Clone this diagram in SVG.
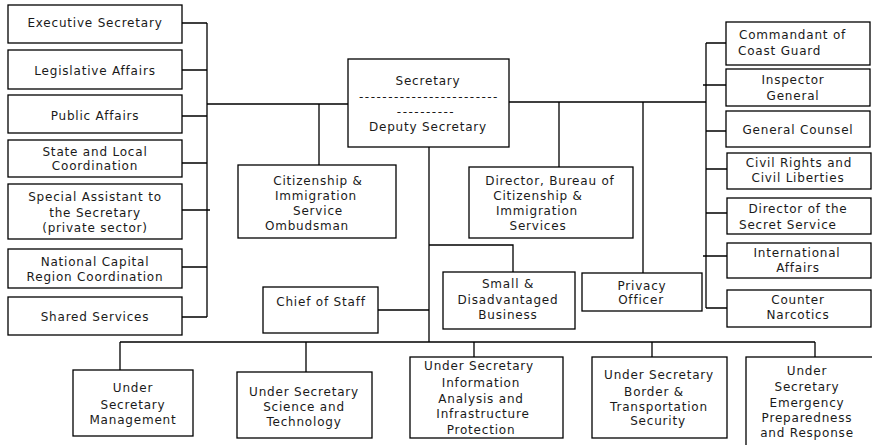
<svg xmlns="http://www.w3.org/2000/svg" width="872" height="445" viewBox="0 0 872 445">
<style>
rect{fill:#fff;stroke:#000;stroke-width:1.3}
text{font-family:"DejaVu Sans",Verdana,sans-serif;font-size:12px;letter-spacing:0.8px;fill:#1a1a1a;text-anchor:middle}
.l{text-anchor:start}
.d{letter-spacing:1.5px}
#connectors path{fill:none;stroke:#000;stroke-width:1.3}
</style>
<rect x="0" y="0" width="872" height="445" style="fill:#fff;stroke:none"/>
<g id="connectors">
<path d="M207,23V317M182,23H207M182,70H207M182,116H207M182,163H207M182,210H210M182,267H207M182,317H207"/>
<path d="M207,104H348M319,104V165"/>
<path d="M509,102H706M559,102V167M643,102V273"/>
<path d="M706,43V308M706,43H726M703,85H726M706,131H726M706,169H727M706,213H727M703,256H727M706,308H727"/>
<path d="M429,147V342M429,245H513V272M378,310H429"/>
<path d="M120,342H815M120,342V370M306,342V372M474,342V357M652,342V357M815,342V357"/>
</g>
<g id="exec-sec"><rect x="8" y="5" width="174" height="38"/><text x="95" y="27">Executive Secretary</text></g>
<g id="legislative"><rect x="8" y="50" width="174" height="39"/><text x="95" y="75">Legislative Affairs</text></g>
<g id="public"><rect x="8" y="95" width="174" height="38"/><text x="95" y="120">Public Affairs</text></g>
<g id="state-local"><rect x="8" y="140" width="174" height="37"/><text x="95" y="156">State and Local</text><text x="95" y="170">Coordination</text></g>
<g id="special-assistant"><rect x="8" y="184" width="174" height="55"/><text x="95" y="201">Special Assistant to</text><text x="95" y="217">the Secretary</text><text x="95" y="232">(private sector)</text></g>
<g id="national-capital"><rect x="8" y="249" width="174" height="39"/><text x="95" y="266">National Capital</text><text x="95" y="281">Region Coordination</text></g>
<g id="shared"><rect x="8" y="297" width="174" height="38"/><text x="95" y="321">Shared Services</text></g>
<g id="secretary"><rect x="348" y="59" width="161" height="88"/><text x="428" y="85">Secretary</text><text class="d" x="429" y="101">------------------------</text><text class="d" x="426" y="116">----------</text><text x="428" y="131">Deputy Secretary</text></g>
<g id="ombudsman"><rect x="238" y="165" width="158" height="73"/><text x="318" y="185">Citizenship &amp;</text><text x="316" y="200">Immigration</text><text x="318" y="215">Service</text><text x="307" y="230">Ombudsman</text></g>
<g id="director-bcis"><rect x="469" y="167" width="164" height="71"/><text x="550" y="185">Director, Bureau of</text><text x="538" y="200">Citizenship &amp;</text><text x="537" y="215">Immigration</text><text x="538" y="230">Services</text></g>
<g id="small-business"><rect x="443" y="272" width="132" height="57"/><text x="508" y="288">Small &amp;</text><text x="508" y="304">Disadvantaged</text><text x="508" y="319">Business</text></g>
<g id="chief-staff"><rect x="263" y="287" width="115" height="46"/><text x="321" y="306">Chief of Staff</text></g>
<g id="privacy"><rect x="582" y="273" width="120" height="38"/><text x="642" y="290">Privacy</text><text x="641" y="304">Officer</text></g>
<g id="coast-guard"><rect x="726" y="22" width="144" height="43"/><text class="l" x="739" y="39">Commandant of</text><text class="l" x="738" y="55">Coast Guard</text></g>
<g id="inspector"><rect x="726" y="69" width="144" height="37"/><text x="793" y="84">Inspector</text><text x="793" y="100">General</text></g>
<g id="counsel"><rect x="726" y="111" width="144" height="36"/><text x="798" y="134">General Counsel</text></g>
<g id="civil-rights"><rect x="727" y="153" width="144" height="36"/><text x="799" y="167">Civil Rights and</text><text x="798" y="182">Civil Liberties</text></g>
<g id="secret-service"><rect x="727" y="198" width="144" height="36"/><text x="798" y="213">Director of the</text><text class="l" x="739" y="229">Secret Service</text></g>
<g id="international"><rect x="727" y="243" width="144" height="35"/><text x="797" y="257">International</text><text x="798" y="272">Affairs</text></g>
<g id="narcotics"><rect x="727" y="290" width="144" height="37"/><text x="798" y="304">Counter</text><text x="798" y="319">Narcotics</text></g>
<g id="us-management"><rect x="73" y="370" width="120" height="66"/><text x="133" y="392">Under</text><text x="133" y="409">Secretary</text><text x="133" y="424">Management</text></g>
<g id="us-science"><rect x="237" y="372" width="135" height="66"/><text x="304" y="396">Under Secretary</text><text x="304" y="411">Science and</text><text x="304" y="426">Technology</text></g>
<g id="us-info"><rect x="410" y="357" width="153" height="81"/><text x="479" y="370">Under Secretary</text><text x="481" y="387">Information</text><text x="481" y="403">Analysis and</text><text x="483" y="418">Infrastructure</text><text x="481" y="434">Protection</text></g>
<g id="us-border"><rect x="592" y="357" width="135" height="81"/><text x="659" y="379">Under Secretary</text><text x="654" y="396">Border  &amp;</text><text x="659" y="411">Transportation</text><text x="658" y="425">Security</text></g>
<g id="us-emergency"><rect x="746" y="357" width="130" height="95"/><text x="807" y="375">Under</text><text x="807" y="391">Secretary</text><text x="807" y="407">Emergency</text><text x="807" y="422">Preparedness</text><text x="807" y="437">and Response</text></g>
</svg>
